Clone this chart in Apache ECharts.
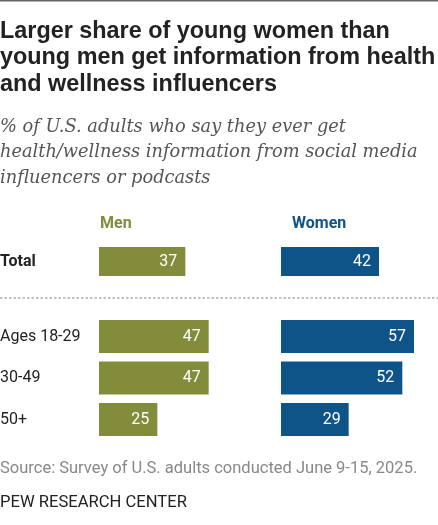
<!DOCTYPE html>
<html>
<head>
<meta charset="utf-8">
<script src="https://cdn.jsdelivr.net/npm/echarts@6/dist/echarts.min.js"></script>
<style>
html,body{margin:0;padding:0;background:#fff;}
#chart{width:438px;height:525px;}
</style>
</head>
<body>
<div id="chart"></div>
<script>
// ---- data ----
const totalCategory = ['Total'];
const menTotal = [37];
const womenTotal = [42];
const ageCategories = ['Ages 18-29', '30-49', '50+'];
const menAges = [47, 47, 25];
const womenAges = [57, 52, 29];
const seriesNames = ['Men', 'Women'];

const MEN = '#828c3a';
const WOMEN = '#0f5488';
const SANS = 'Roboto, "Liberation Sans", Arial, sans-serif';

const chart = echarts.init(document.getElementById('chart'), null, {renderer: 'canvas'});

function valueAxis(gridIndex) {
  return {type: 'value', gridIndex, min: 0, max: 60, show: false};
}
function catAxis(gridIndex, data, showLabel, bold) {
  return {
    type: 'category', gridIndex, data, inverse: true,
    axisLine: {show: false}, axisTick: {show: false}, splitLine: {show: false},
    axisLabel: showLabel ? {
      show: true, align: 'left', margin: 99, color: '#222',
      fontFamily: SANS, fontSize: 16, fontWeight: bold ? 'bold' : 'normal'
    } : {show: false}
  };
}
function barSeries(name, xi, yi, data, color, width) {
  return {
    type: 'bar', name, xAxisIndex: xi, yAxisIndex: yi, data,
    barWidth: width, itemStyle: {color},
    silent: true,
    label: {show: true, position: 'insideRight', distance: 8, color: '#fff',
      fontFamily: SANS, fontSize: 16}
  };
}
function grid(left, top, height) {
  return {left, top, width: 140, height, containLabel: false, outerBoundsMode: 'none'};
}

const option = {
  animation: false,
  backgroundColor: '#fff',
  title: [
    {text: 'Larger share of young women than\nyoung men get information from health\nand wellness influencers',
     left: 0, top: 18, padding: 0,
     textStyle: {fontFamily: '"Liberation Sans", Arial, sans-serif', fontWeight: 'bold', fontSize: 23.4, lineHeight: 26.5, color: '#222'}},
    {text: '% of U.S. adults who say they ever get\nhealth/wellness information from social media\ninfluencers or podcasts',
     left: 0, top: 114.5, padding: 0,
     textStyle: {fontFamily: '"DejaVu Serif", serif', fontStyle: 'italic', fontWeight: 'normal', fontSize: 17.8, lineHeight: 25.5, color: '#555'}},
    {text: seriesNames[0], left: 100, top: 214, padding: 0,
     textStyle: {fontFamily: SANS, fontWeight: 'bold', fontSize: 16, lineHeight: 20, color: MEN}},
    {text: seriesNames[1], left: 292, top: 214, padding: 0,
     textStyle: {fontFamily: SANS, fontWeight: 'bold', fontSize: 16, lineHeight: 20, color: WOMEN}},
    {text: 'Source: Survey of U.S. adults conducted June 9-15, 2025.', left: 0, top: 459, padding: 0,
     textStyle: {fontFamily: SANS, fontWeight: 'normal', fontSize: 16.5, lineHeight: 20, color: '#888'}},
    {text: 'PEW RESEARCH CENTER', left: 0, top: 493, padding: 0,
     textStyle: {fontFamily: SANS, fontWeight: 'normal', fontSize: 16.6, lineHeight: 20, color: '#222'}}
  ],
  graphic: [
    {type: 'line', shape: {x1: 0, y1: 0.75, x2: 438, y2: 0.75}, style: {stroke: '#666', lineWidth: 1.5}},
    {type: 'line', shape: {x1: 0, y1: 298, x2: 438, y2: 298}, style: {stroke: '#aaa', lineWidth: 1.5, lineDash: [2.5, 2]}}
  ],
  grid: [
    grid(99, 247, 29),
    grid(281, 247, 29),
    grid(99, 315.75, 124.5),
    grid(281, 315.75, 124.5)
  ],
  xAxis: [valueAxis(0), valueAxis(1), valueAxis(2), valueAxis(3)],
  yAxis: [
    catAxis(0, totalCategory, true, true),
    catAxis(1, totalCategory, false),
    catAxis(2, ageCategories, true, false),
    catAxis(3, ageCategories, false)
  ],
  series: [
    barSeries(seriesNames[0], 0, 0, menTotal, MEN, 29),
    barSeries(seriesNames[1], 1, 1, womenTotal, WOMEN, 29),
    barSeries(seriesNames[0], 2, 2, menAges, MEN, 33),
    barSeries(seriesNames[1], 3, 3, womenAges, WOMEN, 33)
  ]
};
chart.setOption(option);
</script>
</body>
</html>
